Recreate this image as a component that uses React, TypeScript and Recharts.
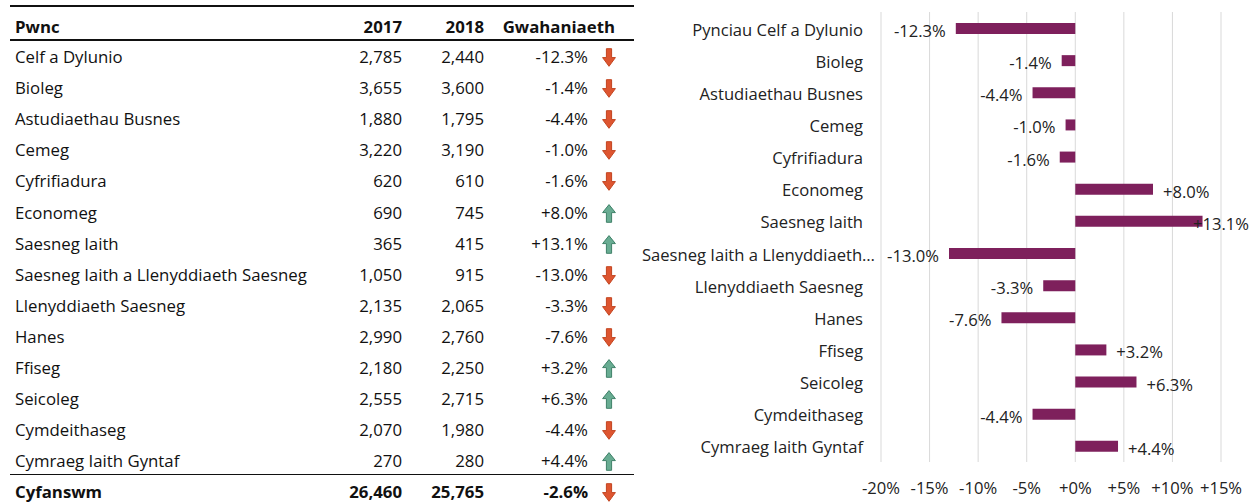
import React from 'react';
import { BarChart, Bar, XAxis, YAxis, CartesianGrid, LabelList } from 'recharts';

const tableSubjects = [
  'Celf a Dylunio', 'Bioleg', 'Astudiaethau Busnes', 'Cemeg', 'Cyfrifiadura', 'Economeg',
  'Saesneg Iaith', 'Saesneg Iaith a Llenyddiaeth Saesneg', 'Llenyddiaeth Saesneg', 'Hanes',
  'Ffiseg', 'Seicoleg', 'Cymdeithaseg', 'Cymraeg Iaith Gyntaf',
];
const chartSubjects = [
  'Pynciau Celf a Dylunio', 'Bioleg', 'Astudiaethau Busnes', 'Cemeg', 'Cyfrifiadura', 'Economeg',
  'Saesneg Iaith', 'Saesneg Iaith a Llenyddiaeth Saesneg', 'Llenyddiaeth Saesneg', 'Hanes',
  'Ffiseg', 'Seicoleg', 'Cymdeithaseg', 'Cymraeg Iaith Gyntaf',
];
const values2017 = [2785, 3655, 1880, 3220, 620, 690, 365, 1050, 2135, 2990, 2180, 2555, 2070, 270];
const values2018 = [2440, 3600, 1795, 3190, 610, 745, 415, 915, 2065, 2760, 2250, 2715, 1980, 280];
const changePct = [-12.3, -1.4, -4.4, -1.0, -1.6, 8.0, 13.1, -13.0, -3.3, -7.6, 3.2, 6.3, -4.4, 4.4];
const headers = ['Pwnc', '2017', '2018', 'Gwahaniaeth'];
const totalLabel = 'Cyfanswm';
const total2017 = 26460;
const total2018 = 25765;
const totalChange = -2.6;
const xDomain = [-20, 15];
const xTicks = [-20, -15, -10, -5, 0, 5, 10, 15];

const FONT = '"Open Sans", "Noto Sans", sans-serif';
const BAR_COLOR = '#7E205C';
const CHART_FONT_SIZE = 16.6;
const TABLE_FONT_SIZE = 16.8;

const chartData = chartSubjects.map((name, i) => ({ name, change: changePct[i] }));

const fmtNum = (n: number) => n.toLocaleString('en-US');
const fmtPct = (v: number) => (v >= 0 ? '+' : '') + v.toFixed(1) + '%';
const fmtTick = (v: number) => (v >= 0 ? '+' : '') + v + '%';

let ctx: CanvasRenderingContext2D | null = null;
const measure = (text: string, size: number) => {
  if (!ctx) ctx = document.createElement('canvas').getContext('2d');
  if (!ctx) return text.length * size * 0.6;
  ctx.font = `${size}px ${FONT}`;
  return ctx.measureText(text).width;
};

const Arrow = ({ up }: { up: boolean }) => (
  <svg width={14} height={19} viewBox="0 0 14 19" style={{ display: 'block' }}>
    {up ? (
      <path d="M7 0.6 L13.4 8.6 L9.6 8.6 L9.6 18.3 L4.4 18.3 L4.4 8.6 L0.6 8.6 Z" fill="#68AC92" stroke="#3F8068" strokeWidth={1} />
    ) : (
      <path d="M4.4 0.7 L9.6 0.7 L9.6 9.6 L13.4 9.6 L7 18.3 L0.6 9.6 L4.4 9.6 Z" fill="#DE5530" stroke="#C2441F" strokeWidth={1} />
    )}
  </svg>
);

const ROW_H = 30;
const rowY = (i: number) => 57 + i * 31.1;

const TableRow = ({ y, cells, bold, arrow }: { y: number; cells: string[]; bold?: boolean; arrow?: boolean | null }) => (
  <div style={{ position: 'absolute', left: 0, top: y - ROW_H / 2, width: 640, height: ROW_H, lineHeight: `${ROW_H}px`, fontWeight: bold ? 700 : 400 }}>
    <span style={{ position: 'absolute', left: 15 }}>{cells[0]}</span>
    <span style={{ position: 'absolute', right: 640 - 402 }}>{cells[1]}</span>
    <span style={{ position: 'absolute', right: 640 - 484 }}>{cells[2]}</span>
    <span style={{ position: 'absolute', right: arrow === null ? 640 - 615 : 640 - 588 }}>{cells[3]}</span>
    {arrow !== null && arrow !== undefined ? (
      <span style={{ position: 'absolute', left: 602, top: 6 }}><Arrow up={arrow} /></span>
    ) : null}
  </div>
);

const HLine = ({ y }: { y: number }) => (
  <div style={{ position: 'absolute', left: 10, top: y, width: 624, height: 1.5, background: '#111' }} />
);

const CategoryTick = (props: any) => {
  const { x, y, payload } = props;
  const full: string = payload.value;
  const truncated = full.length > 30;
  const text = truncated ? full.slice(0, 28) + '…' : full;
  return (
    <text x={x} y={y} dx={truncated ? 12 : 0} dy={1} textAnchor="end" dominantBaseline="central" fill="#222" fontSize={CHART_FONT_SIZE} fontFamily={FONT}>
      {text}
    </text>
  );
};

const CHART_MARGIN = { top: 12, right: 39, bottom: 0, left: 0 };

const renderBarLabel = (props: any) => {
  const { x, y, width, height, value } = props;
  const v = Number(value);
  if (!v) return null;
  const left = Math.min(x, x + width);
  const right = Math.max(x, x + width);
  const ppu = (right - left) / Math.abs(v);
  const zeroX = v < 0 ? right : left;
  const plotLeft = zeroX + xDomain[0] * ppu;
  const plotRight = zeroX + xDomain[1] * ppu;
  const text = fmtPct(v);
  const w = measure(text, CHART_FONT_SIZE);
  const cy = y + height / 2 + 2;
  if (v < 0) {
    const xe = Math.max(left - 10, plotLeft + w);
    return (
      <text x={xe} y={cy} textAnchor="end" dominantBaseline="central" fill="#222" fontSize={CHART_FONT_SIZE} fontFamily={FONT}>{text}</text>
    );
  }
  const limit = plotRight + CHART_MARGIN.right - 11;
  const xs = Math.min(right + 10, limit - w);
  return (
    <text x={xs} y={cy} textAnchor="start" dominantBaseline="central" fill="#222" fontSize={CHART_FONT_SIZE} fontFamily={FONT}>{text}</text>
  );
};

export default function App() {
  return (
    <div style={{ position: 'absolute', left: 0, top: 0, width: 1260, height: 504, background: '#fff', fontFamily: FONT, color: '#111', fontSize: TABLE_FONT_SIZE, overflow: 'hidden' }}>
      <HLine y={5} />
      <TableRow y={27} cells={headers} bold arrow={null} />
      <HLine y={39.3} />
      {tableSubjects.map((s, i) => (
        <TableRow key={s} y={rowY(i)} cells={[s, fmtNum(values2017[i]), fmtNum(values2018[i]), fmtPct(changePct[i])]} arrow={changePct[i] > 0} />
      ))}
      <HLine y={473.7} />
      <TableRow y={491.7} cells={[totalLabel, fmtNum(total2017), fmtNum(total2018), fmtPct(totalChange)]} bold arrow={totalChange > 0} />

      <div style={{ position: 'absolute', left: 640, top: 0 }}>
        <BarChart width={620} height={504} data={chartData} layout="vertical" margin={CHART_MARGIN}>
          <CartesianGrid horizontal={false} stroke="#d9d9d9" />
          <XAxis
            type="number"
            domain={xDomain}
            ticks={xTicks}
            tickFormatter={fmtTick}
            axisLine={false}
            tickLine={false}
            tickSize={0}
            tickMargin={20}
            height={42}
            interval={0}
            tick={{ fill: '#222', fontSize: CHART_FONT_SIZE, fontFamily: FONT }}
          />
          <YAxis
            type="category"
            dataKey="name"
            width={241}
            axisLine={false}
            tickLine={false}
            tickSize={0}
            tickMargin={18}
            interval={0}
            tick={<CategoryTick />}
          />
          <Bar dataKey="change" fill={BAR_COLOR} barSize={11} isAnimationActive={false}>
            <LabelList dataKey="change" content={renderBarLabel} />
          </Bar>
        </BarChart>
      </div>
    </div>
  );
}
